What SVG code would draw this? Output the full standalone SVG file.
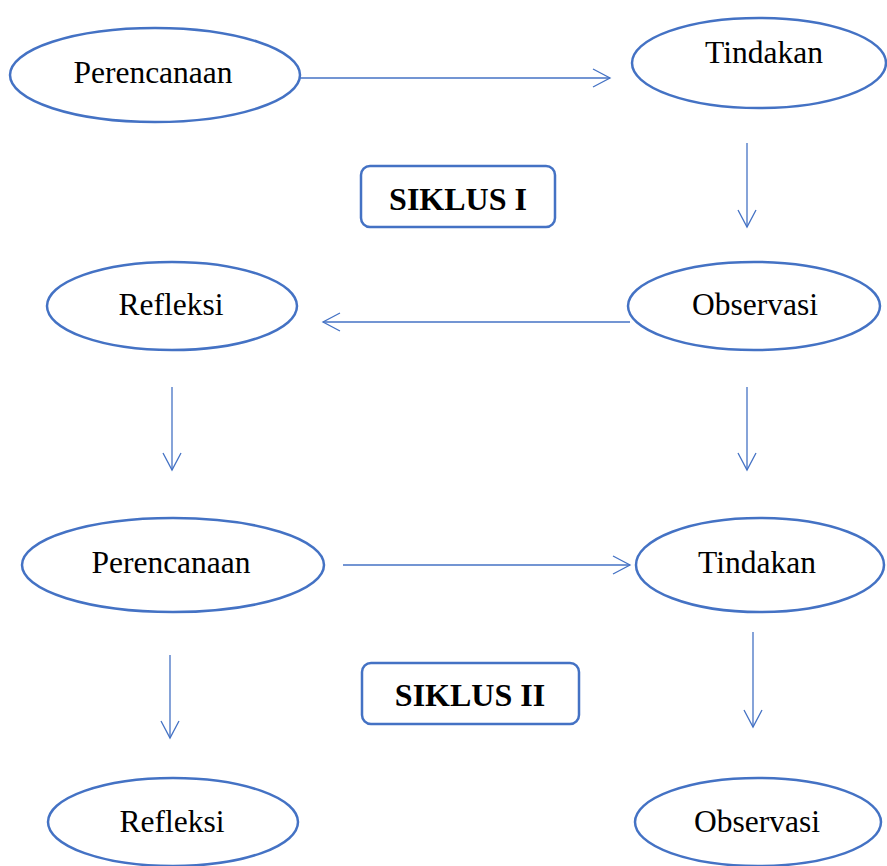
<svg xmlns="http://www.w3.org/2000/svg" width="887" height="866" viewBox="0 0 887 866">
<style>
.n{fill:#fff;stroke:#4472C4;stroke-width:2.5}
.t{font-family:"Liberation Serif","Times New Roman",serif;font-size:31.5px;fill:#000;text-anchor:middle}
.b{font-weight:bold;font-size:32px}
.c{stroke:#4472C4;stroke-width:1.3;fill:none}
</style>
<defs>
<marker id="a" markerWidth="20" markerHeight="20" refX="18" refY="10" orient="auto" markerUnits="userSpaceOnUse">
<path d="M1,1 L18,10 L1,19" fill="none" stroke="#4472C4" stroke-width="1.3"/>
</marker>
</defs>
<rect width="887" height="866" fill="#fff"/>
<g id="connectors">
<line class="c" x1="300" y1="78" x2="610" y2="78" marker-end="url(#a)"/>
<line class="c" x1="747" y1="143" x2="747" y2="227" marker-end="url(#a)"/>
<line class="c" x1="630" y1="322" x2="323" y2="322" marker-end="url(#a)"/>
<line class="c" x1="172" y1="387" x2="172" y2="470" marker-end="url(#a)"/>
<line class="c" x1="747" y1="387" x2="747" y2="470" marker-end="url(#a)"/>
<line class="c" x1="343" y1="565" x2="630" y2="565" marker-end="url(#a)"/>
<line class="c" x1="170" y1="655" x2="170" y2="738" marker-end="url(#a)"/>
<line class="c" x1="753" y1="632" x2="753" y2="727" marker-end="url(#a)"/>
</g>
<g id="perencanaan1">
<ellipse class="n" cx="155" cy="75" rx="145" ry="47"/>
<text class="t" x="153" y="83">Perencanaan</text>
</g>
<g id="tindakan1">
<ellipse class="n" cx="759" cy="63" rx="127" ry="45"/>
<text class="t" x="764" y="63">Tindakan</text>
</g>
<g id="siklus1">
<rect class="n" x="361" y="166" width="194" height="61" rx="9"/>
<text class="t b" x="458" y="210">SIKLUS I</text>
</g>
<g id="observasi1">
<ellipse class="n" cx="754" cy="306" rx="126" ry="44"/>
<text class="t" x="755" y="315">Observasi</text>
</g>
<g id="refleksi1">
<ellipse class="n" cx="172" cy="306" rx="125" ry="44"/>
<text class="t" x="171" y="315">Refleksi</text>
</g>
<g id="perencanaan2">
<ellipse class="n" cx="173" cy="565" rx="151" ry="47"/>
<text class="t" x="171" y="573">Perencanaan</text>
</g>
<g id="tindakan2">
<ellipse class="n" cx="760" cy="565" rx="124" ry="47"/>
<text class="t" x="757" y="573">Tindakan</text>
</g>
<g id="siklus2">
<rect class="n" x="362" y="663" width="217" height="61" rx="9"/>
<text class="t b" x="470" y="706">SIKLUS II</text>
</g>
<g id="refleksi2">
<ellipse class="n" cx="173" cy="822" rx="125" ry="44"/>
<text class="t" x="172" y="832">Refleksi</text>
</g>
<g id="observasi2">
<ellipse class="n" cx="758" cy="822" rx="123" ry="44"/>
<text class="t" x="757" y="832">Observasi</text>
</g>
</svg>
